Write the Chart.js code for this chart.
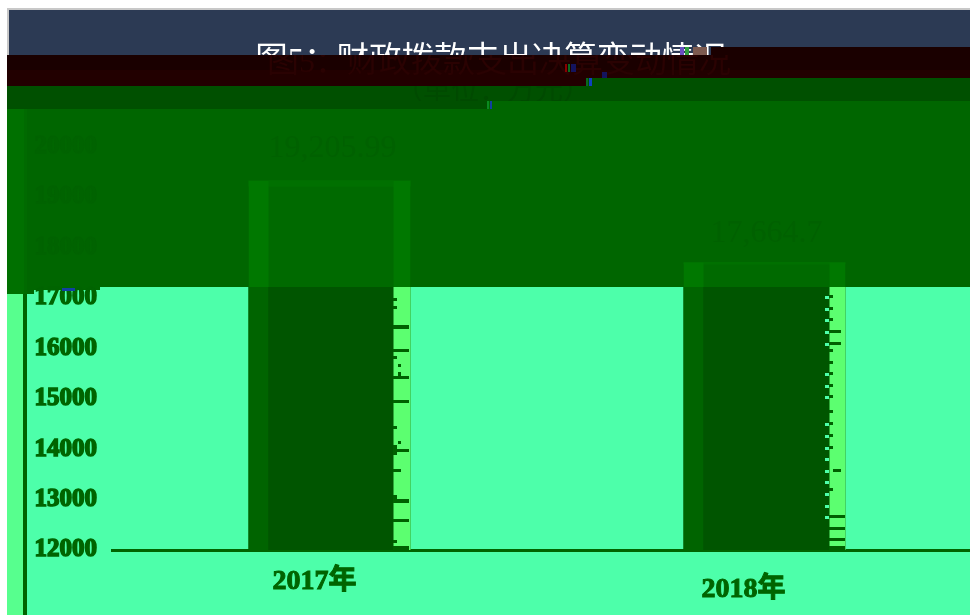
<!DOCTYPE html>
<html lang="zh">
<head>
<meta charset="utf-8">
<title>图5</title>
<script src="https://cdn.jsdelivr.net/npm/chart.js@4/dist/chart.umd.min.js"></script>
<style>
  html, body { margin: 0; padding: 0; background: #fff; overflow: hidden; width: 970px; height: 615px; }
  canvas { display: block; }
</style>
</head>
<body>
<canvas id="chart" width="982" height="615"></canvas>
<script>
const years = ['2017年', '2018年'];
const spending = [19205.99, 17664.7];
const yTicks = [12000, 13000, 14000, 15000, 16000, 17000, 18000, 19000, 20000];
const titleText = '图5：财政拨款支出决算变动情况';
const subtitleText = '（单位：万元）';

const SERIF = '"Liberation Serif", "Noto Sans CJK SC", serif';
const MINT = '#4dffaa';
const BAND = '#006600';

// ---- Corrupted image bands, painted behind the chart ----
const backdrop = {
  id: 'backdrop',
  beforeDraw(chart) {
    const c = chart.ctx;
    const rect = (col, x0, y0, x1, y1) => { c.fillStyle = col; c.fillRect(x0, y0, x1 - x0, y1 - y0); };
    rect('#c8c8c8', 7, 8, 982, 10);
    rect('#c8c8c8', 7, 8, 9, 55);
    rect('#2c3a54', 9, 10, 982, 55);
    rect(MINT, 7, 287, 982, 615);
    rect('#57ff8e', 7, 287, 23, 615);
    rect('#006400', 23, 287, 27, 615);
    rect(BAND, 7, 101, 982, 287);
    rect(BAND, 7, 287, 34, 294);
    rect(BAND, 34, 287, 100, 290);
    rect('#007000', 7, 109, 24, 294);
    rect('#006a00', 24, 109, 27, 294);
  },
};

// strips of each bar: [left strip end, dark end], offsets from the bar's left edge
const barStrips = [[20, 145], [20, 146]];
const barCaps = [6, 2];
// dark dashes inside the bright strip, [x0, x1, y0, y1]
const dashes = [
  [393, 397, 298, 301], [393, 397, 306, 309], [393, 409, 325, 329], [393, 409, 349, 352],
  [393, 397, 356, 359], [398, 401, 364, 367], [398, 401, 372, 376], [393, 409, 376, 379],
  [393, 409, 400, 403], [393, 397, 426, 429], [398, 401, 441, 444], [393, 397, 445, 455],
  [397, 409, 449, 452], [393, 401, 469, 472], [393, 397, 495, 499], [393, 409, 499, 503],
  [393, 409, 519, 522], [393, 397, 540, 543], [393, 409, 546, 551],
  [829, 833, 295, 298], [829, 833, 307, 310], [829, 833, 318, 321], [829, 841, 330, 333],
  [829, 841, 342, 345], [829, 833, 349, 352], [829, 833, 361, 364], [829, 833, 372, 375],
  [829, 833, 384, 387], [829, 833, 395, 398], [829, 833, 410, 413], [829, 833, 422, 425],
  [829, 833, 434, 437], [829, 833, 446, 449], [833, 841, 469, 472], [829, 833, 488, 491],
  [829, 845, 515, 518], [829, 845, 527, 530], [829, 845, 538, 541], [829, 845, 546, 550],
];
const nibbleRows = [296, 308, 319, 331, 343, 373, 385, 396, 423, 435, 447, 458, 470, 481, 493, 505, 516];
const specks = [
  ['#8a0000', 565, 64, 567, 72], ['#0a6a20', 568, 64, 570, 72], ['#14145e', 571, 64, 576, 72],
  ['#14145e', 602, 72, 607, 78], ['#0a6a20', 586, 78, 588, 86], ['#1040c0', 589, 78, 592, 86],
  ['#0a8a20', 487, 101, 489, 109], ['#1040a0', 490, 101, 492, 109],
  ['#7c5a50', 693, 47, 707, 55], ['#6a50c0', 680, 47, 684, 55], ['#30a040', 685, 47, 689, 55],
  ['#1040a0', 62, 288, 75, 291],
];

// ---- Bar strips, value labels, axis labels and the bands on top ----
const overlay = {
  id: 'overlay',
  afterDatasetsDraw(chart) {
    const c = chart.ctx;
    const rect = (col, x0, y0, x1, y1) => { c.fillStyle = col; c.fillRect(x0, y0, x1 - x0, y1 - y0); };
    const base = chart.scales.y.getPixelForValue(12000);
    const xScale = chart.scales.x;

    chart.getDatasetMeta(0).data.forEach((bar, i) => {
      const left = bar.x - bar.width / 2;
      const right = bar.x + bar.width / 2;
      const [a, b] = barStrips[i];
      // part inside the green band
      rect('#007800', left, bar.y - barCaps[i], right, 287);
      rect('#007000', left + a, bar.y - barCaps[i], left + b, bar.y);
      rect('#006a00', left + a, bar.y, left + b, 287);
      // part on the mint ground
      rect('#006400', left, 287, left + a, base);
      rect('#005500', left + a, 287, left + b, base);
      rect('#5cff70', left + b, 287, right, base);

      // value label
      c.font = '32px ' + SERIF;
      c.textAlign = 'center';
      c.textBaseline = 'middle';
      c.fillStyle = '#006100';
      const text = spending[i].toLocaleString('en-US', { maximumFractionDigits: 2 });
      c.fillText(text, bar.x + (i ? 2 : 3), bar.y - (i ? 31 : 38));

      // category label, shifted like the source
      c.font = 'bold 28px ' + SERIF;
      c.fillStyle = '#006400';
      c.strokeStyle = '#006400';
      c.lineWidth = 1;
      const lx = bar.x - (i ? 21 : 15);
      const ly = base + (i ? 40 : 32);
      c.fillText(xScale.getLabelForValue(i), lx, ly);
      c.strokeText(xScale.getLabelForValue(i), lx, ly);
    });

    dashes.forEach(d => rect('#006000', d[0], d[2], d[1], d[3]));
    nibbleRows.forEach(y => rect(MINT, 825, y, 829, y + 3));

    // bands that cover the title
    rect('#1a0000', 7, 55, 711, 70);
    rect('#1a0000', 711, 47, 982, 70);
    rect('#220000', 7, 70, 982, 78);
    rect('#220000', 7, 78, 586, 86);
    rect('#005000', 586, 78, 982, 101);
    rect('#005000', 7, 86, 488, 109);
    rect('#005000', 488, 86, 586, 101);
    rect(BAND, 488, 101, 982, 109);

    c.textAlign = 'center';
    c.textBaseline = 'middle';
    c.save();
    c.beginPath();
    c.rect(7, 55, 975, 23);
    c.clip();
    c.font = '32px ' + SERIF;
    c.fillStyle = '#2a0202';
    c.fillText(titleText, 499, 64);
    c.restore();
    c.save();
    c.beginPath();
    c.rect(7, 86, 975, 15);
    c.clip();
    c.font = '28px ' + SERIF;
    c.fillStyle = '#004a00';
    c.fillText(subtitleText, 493, 93);
    c.restore();

    specks.forEach(s => rect(s[0], s[1], s[2], s[3], s[4]));
  },
};

new Chart(document.getElementById('chart'), {
  type: 'bar',
  data: {
    labels: years,
    datasets: [{
      data: spending,
      backgroundColor: '#005500',
      barPercentage: 0.3724,
      categoryPercentage: 1,
      borderWidth: 0,
    }],
  },
  plugins: [backdrop, overlay],
  options: {
    responsive: false,
    animation: false,
    layout: { padding: { bottom: 57 } },
    plugins: {
      legend: { display: false },
      tooltip: { enabled: false },
      title: {
        display: true,
        text: titleText,
        color: '#fff',
        font: { family: SERIF, size: 32.5, lineHeight: 1, weight: 'normal' },
        padding: { top: 45, bottom: 69 },
      },
    },
    scales: {
      x: {
        grid: { display: false },
        border: { color: '#006400', width: 3 },
        ticks: { display: false },
      },
      y: {
        min: yTicks[0],
        max: yTicks[yTicks.length - 1],
        afterBuildTicks: (scale) => { scale.ticks = yTicks.map(value => ({ value })); },
        afterFit: (scale) => { scale.width = 112; },
        grid: { display: false, drawTicks: false },
        border: { display: false },
        ticks: {
          padding: 15,
          color: (ctx) => (ctx.tick.value > 17000 ? '#006300' : '#006400'),
          textStrokeColor: (ctx) => (ctx.tick.value > 17000 ? '#006300' : '#006400'),
          textStrokeWidth: 1.5,
          font: { family: SERIF, size: 25, weight: 'bold' },
          callback: (v) => String(v),
        },
      },
    },
  },
});
</script>
</body>
</html>
